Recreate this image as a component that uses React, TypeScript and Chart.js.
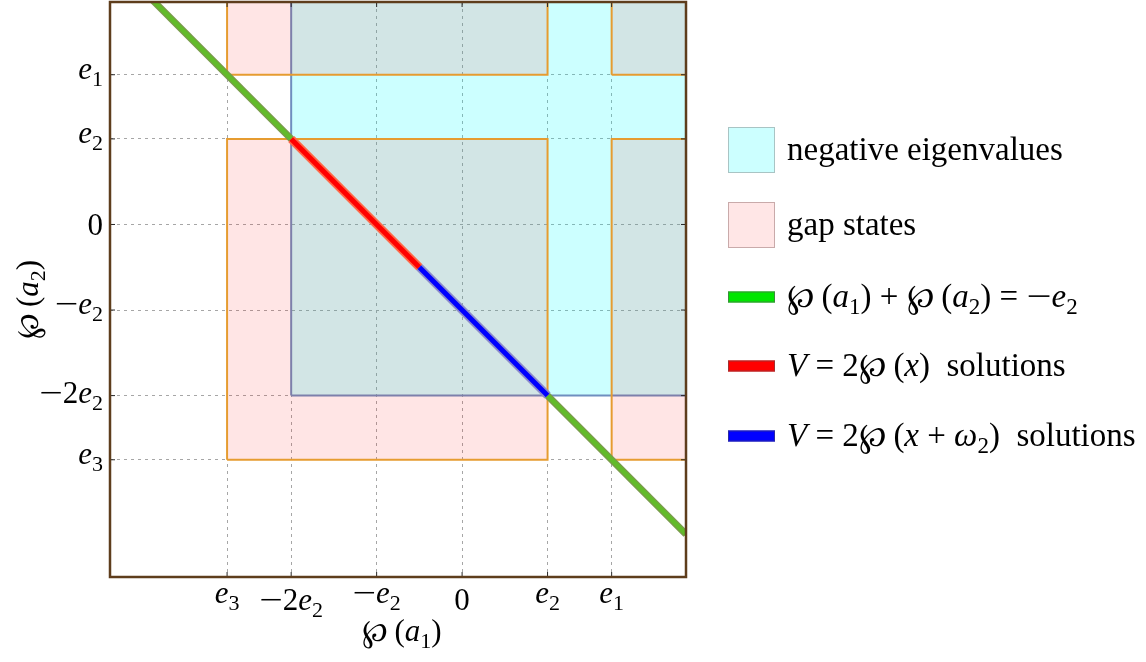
import React, { useEffect, useRef } from 'react';
import { Chart, registerables } from 'chart.js';

Chart.register(...registerables);

// a text run: italic (math variable), subscript, horizontal stretch
type Seg = { t: string; i?: boolean; s?: boolean; w?: number };

const FONT_FAMILY = '"Liberation Serif", "DejaVu Serif", serif';
const TEXT_SIZE = 31;
const LEGEND_SIZE = 33;

// axis limits (e2 = 1 unit)
const xLimits = [-4.12, 2.62];
const yLimits = [-4.12, 2.6];

const minus: Seg = { t: '−', w: 1.35 };

// e3, -2e2, -e2, 0, e2, e1
const tickValues = [-2.75, -2, -1, 0, 1, 1.75];
const tickLabels: Seg[][] = [
  [{ t: 'e', i: true }, { t: '3', s: true }],
  [minus, { t: '2' }, { t: 'e', i: true }, { t: '2', s: true }],
  [minus, { t: 'e', i: true }, { t: '2', s: true }],
  [{ t: '0' }],
  [{ t: 'e', i: true }, { t: '2', s: true }],
  [{ t: 'e', i: true }, { t: '1', s: true }],
];

// negative eigenvalue region
const negEigX = [-2, 2.62];
const negEigY = [-2, 2.6];

// gap state bands: [e3, e2] and [e1, edge] on both axes
const gapBandsX = [[-2.75, 1], [1.75, 2.62]];
const gapBandsY = [[-2.75, 1], [1.75, 2.6]];

// wp(a1) + wp(a2) = -e2
const sumLineX = [-4.12, 2.62];
const sumLineY = [3.12, -3.62];

// V = 2 wp(x) solutions
const wpSolX = [-2, -0.5];
const wpSolY = [1, -0.5];

// V = 2 wp(x + w2) solutions
const wpShiftSolX = [-0.5, 1];
const wpShiftSolY = [-0.5, -2];

const wp: Seg = { t: '℘' };
const xTitle: Seg[] = [wp, { t: '\u2009(' }, { t: 'a', i: true }, { t: '1', s: true }, { t: ')' }];
const yTitle: Seg[] = [wp, { t: '\u2009(' }, { t: 'a', i: true }, { t: '2', s: true }, { t: ')' }];

const legendLabels: Seg[][] = [
  [{ t: 'negative eigenvalues' }],
  [{ t: 'gap states' }],
  [wp, { t: '\u2009(' }, { t: 'a', i: true }, { t: '1', s: true }, { t: ') + ' }, wp, { t: '\u2009(' },
    { t: 'a', i: true }, { t: '2', s: true }, { t: ') = ' }, minus, { t: 'e', i: true }, { t: '2', s: true }],
  [{ t: 'V', i: true }, { t: ' = 2' }, wp, { t: '\u2009(' }, { t: 'x', i: true }, { t: ')  solutions' }],
  [{ t: 'V', i: true }, { t: ' = 2' }, wp, { t: '\u2009(' }, { t: 'x', i: true }, { t: ' + ' },
    { t: 'ω', i: true }, { t: '2', s: true }, { t: ')  solutions' }],
];
const legendKinds = ['patch', 'patch', 'line', 'line', 'line'];
const legendFills = ['#ccffff', '#ffe6e6', '#00e600', '#ff0000', '#0000ff'];
const legendEdges = ['#a9c4c4', '#c9aaaa', '#3c8c3c', '#a03030', '#2a2aa0'];

const segFont = (seg: Seg, size: number) =>
  `${seg.i ? 'italic ' : ''}${seg.s ? Math.round(size * 0.7) : size}px ${FONT_FAMILY}`;

const drawRich = (
  ctx: CanvasRenderingContext2D,
  segs: Seg[],
  x: number,
  baseline: number,
  size: number,
  align: 'left' | 'center' | 'right'
) => {
  ctx.textAlign = 'left';
  ctx.textBaseline = 'alphabetic';
  const widths = segs.map(seg => {
    ctx.font = segFont(seg, size);
    return ctx.measureText(seg.t).width * (seg.w || 1);
  });
  const total = widths.reduce((a, b) => a + b, 0);
  let cx = align === 'left' ? x : align === 'center' ? x - total / 2 : x - total;
  segs.forEach((seg, k) => {
    ctx.font = segFont(seg, size);
    const by = seg.s ? baseline + size * 0.22 : baseline;
    if (seg.w) {
      ctx.save();
      ctx.translate(cx, by);
      ctx.scale(seg.w, 1);
      ctx.fillText(seg.t, 0, 0);
      ctx.restore();
    } else {
      ctx.fillText(seg.t, cx, by);
    }
    cx += widths[k];
  });
};

const rect = (xr: number[], yr: number[]) => [
  { x: xr[0], y: yr[0] },
  { x: xr[1], y: yr[0] },
  { x: xr[1], y: yr[1] },
  { x: xr[0], y: yr[1] },
  { x: xr[0], y: yr[0] },
];
const pts = (xs: number[], ys: number[]) => xs.map((x, k) => ({ x, y: ys[k] }));

const overlayPlugin = {
  id: 'overlay',
  afterDraw(chart: any) {
    const { ctx, chartArea: a, scales } = chart;
    const xs = scales.x;
    const ys = scales.y;
    ctx.save();

    // inward tick marks
    ctx.strokeStyle = '#262626';
    ctx.lineWidth = 1;
    ctx.setLineDash([]);
    tickValues.forEach(v => {
      const px = xs.getPixelForValue(v);
      const py = ys.getPixelForValue(v);
      ctx.beginPath();
      ctx.moveTo(px, a.bottom);
      ctx.lineTo(px, a.bottom - 5);
      ctx.moveTo(px, a.top);
      ctx.lineTo(px, a.top + 5);
      ctx.moveTo(a.left, py);
      ctx.lineTo(a.left + 5, py);
      ctx.moveTo(a.right, py);
      ctx.lineTo(a.right - 5, py);
      ctx.stroke();
    });

    // frame
    ctx.strokeStyle = '#5e3d1c';
    ctx.lineWidth = 2.5;
    ctx.strokeRect(a.left, a.top, a.right - a.left, a.bottom - a.top);

    // tick labels
    ctx.fillStyle = '#000';
    tickValues.forEach((v, k) => {
      const segs = tickLabels[k];
      const tall = segs.some(s => !s.s && /\d/.test(s.t));
      const hasSub = segs.some(s => s.s);
      const asc = (tall ? 0.68 : 0.46) * TEXT_SIZE;
      const desc = hasSub ? 0.2 * TEXT_SIZE : 0;
      drawRich(ctx, segs, xs.getPixelForValue(v), a.bottom + 12 + asc, TEXT_SIZE, 'center');
      drawRich(ctx, segs, a.left - 7, ys.getPixelForValue(v) + (asc - desc) / 2, TEXT_SIZE, 'right');
    });

    // axis titles
    drawRich(ctx, xTitle, (a.left + a.right) / 2 + 4, a.bottom + 64, TEXT_SIZE, 'center');
    ctx.save();
    ctx.translate(38, (a.top + a.bottom) / 2 + 10);
    ctx.rotate(-Math.PI / 2);
    drawRich(ctx, yTitle, 0, 0, TEXT_SIZE, 'center');
    ctx.restore();

    // legend
    const lx = a.right + 42;
    const rowY = [150, 225, 297, 366, 436];
    legendLabels.forEach((segs, k) => {
      const y = rowY[k];
      ctx.fillStyle = legendFills[k];
      ctx.strokeStyle = legendEdges[k];
      ctx.lineWidth = 1;
      if (legendKinds[k] === 'patch') {
        ctx.fillRect(lx, y - 23, 47, 46);
        ctx.strokeRect(lx + 0.5, y - 22.5, 46, 45);
      } else {
        ctx.fillRect(lx, y - 5.5, 47, 11);
        ctx.strokeRect(lx + 0.5, y - 5, 46, 10);
      }
      ctx.fillStyle = '#000';
      drawRich(ctx, segs, lx + 59, y + 10, LEGEND_SIZE, 'left');
    });

    ctx.restore();
  },
};

const App: React.FC = () => {
  const chartRef = useRef<HTMLCanvasElement | null>(null);
  const chartInstance = useRef<Chart | null>(null);

  useEffect(() => {
    if (!chartRef.current) return;
    const ctx = chartRef.current.getContext('2d');
    if (!ctx) return;

    const base = { showLine: true, pointRadius: 0, pointHoverRadius: 0, clip: 0, tension: 0, fill: false };

    const gapSets = gapBandsX.flatMap((bx, i) =>
      gapBandsY.map((by, j) => ({
        ...base,
        data: rect(bx, by),
        fill: 'shape',
        backgroundColor: 'rgba(255, 0, 0, 0.1)',
        borderColor: '#e69c30',
        borderWidth: 2,
        order: 6 + i * 2 + j,
      }))
    );

    const axis = (limits: number[], vertical: boolean) => ({
      type: 'linear' as const,
      min: limits[0],
      max: limits[1],
      afterBuildTicks: (s: any) => {
        s.ticks = tickValues.map(v => ({ value: v }));
      },
      afterFit: (s: any) => {
        if (vertical) s.width = 0;
        else s.height = 0;
      },
      ticks: { display: false },
      grid: { color: '#a6a6a6', lineWidth: 1, drawTicks: false },
      border: { display: false, dash: [3, 4] },
    });

    chartInstance.current = new Chart(ctx, {
      type: 'line',
      data: {
        datasets: [
          { ...base, data: pts(wpShiftSolX, wpShiftSolY), borderColor: '#0000ff', borderWidth: 5, order: 0 },
          { ...base, data: pts(wpShiftSolX, wpShiftSolY), borderColor: '#8c8acb', borderWidth: 8.5, order: 1 },
          { ...base, data: pts(wpSolX, wpSolY), borderColor: '#ff0000', borderWidth: 5, order: 2 },
          { ...base, data: pts(wpSolX, wpSolY), borderColor: '#ff6848', borderWidth: 8.5, order: 3 },
          { ...base, data: pts(sumLineX, sumLineY), borderColor: '#62bb2a', borderWidth: 4.5, order: 4 },
          { ...base, data: pts(sumLineX, sumLineY), borderColor: '#7a9a4c', borderWidth: 7, order: 5 },
          ...gapSets,
          {
            ...base,
            data: rect(negEigX, negEigY),
            fill: 'shape',
            backgroundColor: 'rgba(0, 255, 255, 0.2)',
            borderColor: '#6f8fbf',
            borderWidth: 2,
            order: 20,
          },
        ] as any,
      },
      options: {
        responsive: true,
        maintainAspectRatio: false,
        animation: false,
        events: [],
        layout: { padding: { left: 110, right: 460, top: 2, bottom: 85 } },
        plugins: {
          legend: { display: false },
          tooltip: { enabled: false },
        },
        scales: {
          x: axis(xLimits, false),
          y: axis(yLimits, true),
        },
      } as any,
      plugins: [overlayPlugin],
    });

    return () => {
      if (chartInstance.current) {
        chartInstance.current.destroy();
        chartInstance.current = null;
      }
    };
  }, []);

  return (
    <div style={{ position: 'fixed', left: 0, top: 0, width: 1146, height: 662, background: '#fff' }}>
      <canvas ref={chartRef} />
    </div>
  );
};

export default App;
